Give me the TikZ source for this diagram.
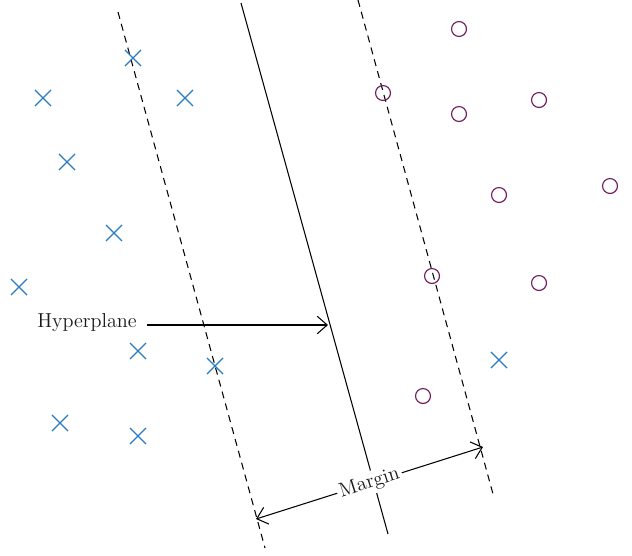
\documentclass[tikz,border=0pt]{standalone}
\usetikzlibrary{arrows.meta,shapes.misc,calc}
\definecolor{neg}{HTML}{2A7BC6}
\definecolor{pos}{HTML}{6E1A5C}
\tikzset{
  xmark/.style={draw=neg, cross out, minimum size=8.5pt, inner sep=0pt, line width=0.65pt},
  omark/.style={draw=pos, circle, minimum size=8.5pt, inner sep=0pt, line width=0.65pt},
  bound/.style={line width=0.6pt, dash pattern=on 4pt off 3pt},
  plane/.style={line width=0.6pt},
  flow/.style={-{Straight Barb[length=2mm,width=3.5mm]}, line width=0.6pt},
  both/.style={{Straight Barb[length=2mm,width=3.5mm]}-{Straight Barb[length=2mm,width=3.5mm]}, line width=0.6pt},
  lab/.style={font=\fontsize{11.5}{13}\selectfont, text=black!90},
}

\begin{document}
\begin{tikzpicture}[x=0.02cm, y=-0.02cm]
\useasboundingbox (0,0) rectangle (632,555);

% The separating hyperplane and the two margin boundaries.
\coordinate (lb_top) at (118,12);
\coordinate (lb_bot) at (265,548);
\coordinate (hp_top) at (241,3);
\coordinate (hp_bot) at (388,534);
\coordinate (rb_top) at (358,0);
\coordinate (rb_bot) at (493,494);
\draw[bound] (lb_top) -- (lb_bot);
\draw[plane] (hp_top) -- (hp_bot);
\draw[bound] (rb_top) -- (rb_bot);

% Class one: crosses.
\node[xmark] (x1) at (133,58) {};
\node[xmark] (x2) at (43,98) {};
\node[xmark] (x3) at (185,98) {};
\node[xmark] (x4) at (67,162) {};
\node[xmark] (x5) at (114,233) {};
\node[xmark] (x6) at (19,287) {};
\node[xmark] (x7) at (138,351) {};
\node[xmark] (x8) at (215,366) {};
\node[xmark] (x9) at (60,423) {};
\node[xmark] (x10) at (138,436) {};
\node[xmark] (x11) at (499,360) {};

% Class two: circles.
\node[omark] (o1) at (459,29) {};
\node[omark] (o2) at (383,93) {};
\node[omark] (o3) at (459,114) {};
\node[omark] (o4) at (539,100) {};
\node[omark] (o5) at (499,195) {};
\node[omark] (o6) at (610,186) {};
\node[omark] (o7) at (432,276) {};
\node[omark] (o8) at (539,283) {};
\node[omark] (o9) at (423,396) {};

% Labels.
\node[lab] (hyp) at (87,323) {Hyperplane};
\coordinate (hyp_start) at (147,325);
\coordinate (hp_hit) at (328,325);
\draw[flow] (hyp_start) -- (hp_hit);

\coordinate (m_left) at (256,519);
\coordinate (m_right) at (483,447);
\draw[both] (m_left) -- (m_right)
  node[midway, sloped, fill=white, inner sep=1.5pt, lab] (marg) {Margin};

\end{tikzpicture}
\end{document}
